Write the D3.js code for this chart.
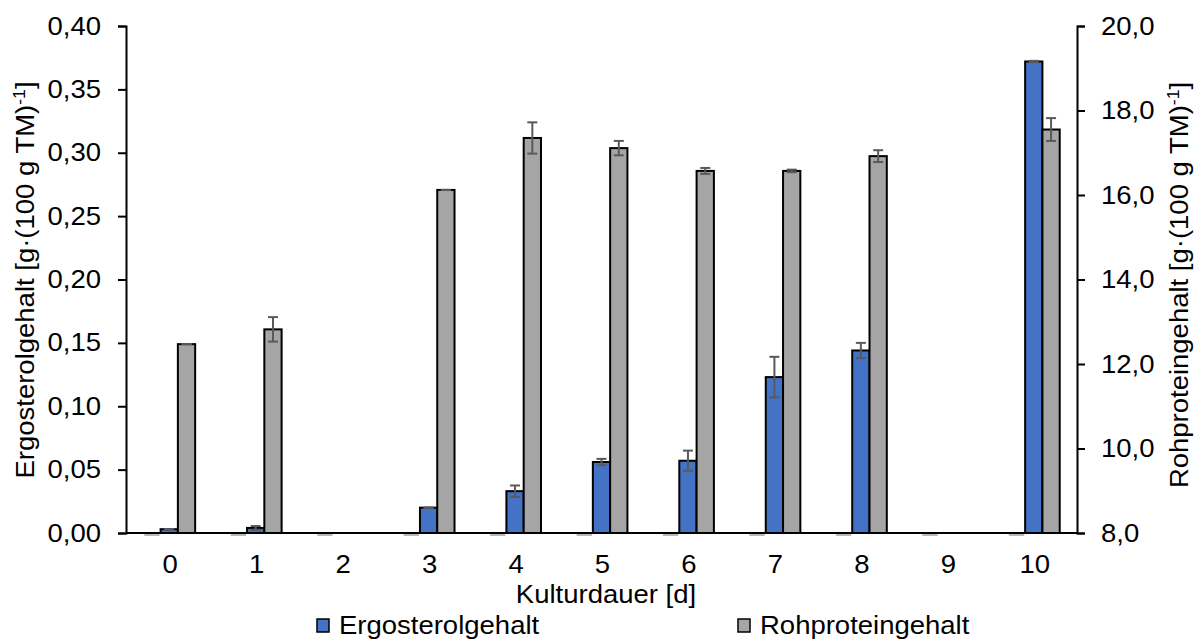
<!DOCTYPE html>
<html>
<head>
<meta charset="utf-8">
<script src="https://cdn.jsdelivr.net/npm/d3@7"></script>
<style>
  html, body { margin: 0; padding: 0; background: #fff; }
  svg text { font-family: "Liberation Sans", Arial, sans-serif; fill: #000; }
</style>
</head>
<body>
<svg id="chart" width="1197" height="641"></svg>
<script>
// Culture days on the x axis
const days = ["0", "1", "2", "3", "4", "5", "6", "7", "8", "9", "10"];
// Ergosterol content, g per 100 g dry matter (left axis); null = not measured
const ergosterol    = [0.003, 0.004, null, 0.020, 0.033, 0.056, 0.057, 0.123, 0.144, null, 0.372];
const ergosterolErr = [0.000, 0.0015, null, 0.000, 0.0045, 0.0025, 0.008, 0.016, 0.006, null, 0.0005];
// Crude protein content, g per 100 g dry matter (right axis)
const protein    = [12.47, 12.82, null, 16.12, 17.35, 17.11, 16.57, 16.57, 16.92, null, 17.55];
const proteinErr = [0.00, 0.29, null, 0.00, 0.37, 0.17, 0.07, 0.03, 0.14, null, 0.27];
// Axis tick values
const leftTicks  = [0, 0.05, 0.10, 0.15, 0.20, 0.25, 0.30, 0.35, 0.40];
const rightTicks = [8, 10, 12, 14, 16, 18, 20];
const seriesNames = ["Ergosterolgehalt", "Rohproteingehalt"];
const seriesColors = ["#4472C4", "#A5A5A5"];

const svg = d3.select("#chart");
const plotL = 126, plotR = 1077, plotT = 26, plotB = 533;
const FS = 25;
const WIDE = 1.1; // slightly widened glyphs

const x = d3.scaleBand().domain(days).range([plotL, plotR]).padding(0);
// three slots per day: empty placeholder, ergosterol, protein
const slotW = x.bandwidth() * 0.2;
const slotX = k => ({ pad: 0.2, erg: 0.4, prot: 0.6 }[k]) * x.bandwidth();

const yL = d3.scaleLinear().domain([0, 0.40]).range([plotB, plotT]);
const yR = d3.scaleLinear().domain([8, 20]).range([plotB, plotT]);
const fmtL = v => d3.format(".2f")(v).replace(".", ",");
const fmtR = v => d3.format(".1f")(v).replace(".", ",");

// text placed at (tx, ty), optionally rotated, stretched along its run
function label(tx, ty, rot, anchor) {
  return svg.append("text")
    .attr("transform", `translate(${tx},${ty}) rotate(${rot}) scale(${WIDE},1)`)
    .attr("text-anchor", anchor)
    .attr("font-size", FS);
}

// placeholder series: zero-height marks at the baseline
svg.append("g").selectAll("rect").data(days).join("rect")
  .attr("x", d => x(d) + slotX("pad") + 1)
  .attr("y", plotB + 0.5)
  .attr("width", slotW - 2)
  .attr("height", 2.5)
  .attr("fill", "#B8B8B8");

// bars
function bars(values, yScale, key, color) {
  const data = days.map((d, i) => ({ d, v: values[i] })).filter(o => o.v !== null);
  svg.append("g").selectAll("rect").data(data).join("rect")
    .attr("x", o => x(o.d) + slotX(key))
    .attr("y", o => yScale(o.v))
    .attr("width", slotW)
    .attr("height", o => plotB - yScale(o.v))
    .attr("fill", color)
    .attr("stroke", "#000")
    .attr("stroke-width", 2);
}
bars(ergosterol, yL, "erg", seriesColors[0]);
bars(protein, yR, "prot", seriesColors[1]);

// error bars
function errors(values, errs, yScale, key) {
  const data = days.map((d, i) => ({ d, v: values[i], e: errs[i] })).filter(o => o.v !== null);
  const g = svg.append("g").attr("stroke", "#5A5A5A").attr("stroke-width", 2);
  const cx = o => x(o.d) + slotX(key) + slotW / 2;
  const cap = 5;
  data.forEach(o => {
    const y1 = yScale(o.v + o.e), y2 = yScale(o.v - o.e);
    if (o.e > 0) g.append("line").attr("x1", cx(o)).attr("x2", cx(o)).attr("y1", y1).attr("y2", y2);
    g.append("line").attr("x1", cx(o) - cap).attr("x2", cx(o) + cap).attr("y1", y1).attr("y2", y1);
    g.append("line").attr("x1", cx(o) - cap).attr("x2", cx(o) + cap).attr("y1", y2).attr("y2", y2);
  });
}
errors(ergosterol, ergosterolErr, yL, "erg");
errors(protein, proteinErr, yR, "prot");

// axes
const axL = svg.append("g").attr("transform", `translate(${plotL},0)`)
  .call(d3.axisLeft(yL).tickValues(leftTicks).tickFormat(fmtL).tickSize(8).tickPadding(17));
const axR = svg.append("g").attr("transform", `translate(${plotR},0)`)
  .call(d3.axisRight(yR).tickValues(rightTicks).tickFormat(fmtR).tickSize(8).tickPadding(16));
[axL, axR].forEach(a => {
  a.select(".domain").attr("stroke", "#000").attr("stroke-width", 2);
  a.selectAll(".tick line").attr("stroke", "#000").attr("stroke-width", 2);
  a.selectAll(".tick text")
    .attr("font-size", FS).attr("font-family", null)
    .attr("x", function () { return +d3.select(this).attr("x") / WIDE; })
    .attr("transform", `scale(${WIDE},1)`);
});
// baseline
svg.append("line").attr("x1", plotL).attr("x2", plotR).attr("y1", plotB).attr("y2", plotB)
  .attr("stroke", "#000").attr("stroke-width", 2);

// x tick labels
days.forEach(d => label(x(d) + x.bandwidth() / 2 + 1, 573, 0, "middle").text(d));

// axis titles
label(606, 603, 0, "middle").text("Kulturdauer [d]");

function unitTitle(name, tx, ty) {
  const t = label(tx, ty, -90, "middle");
  t.append("tspan").text(name + " [g·(100 g TM)");
  t.append("tspan").attr("dy", -9).attr("font-size", 16).text("-1");
  t.append("tspan").attr("dy", 9).text("]");
}
unitTitle("Ergosterolgehalt", 34, 280);
unitTitle("Rohproteingehalt", 1188, 285);

// legend
const legX = [317, 738];
seriesNames.forEach((n, i) => {
  svg.append("rect").attr("x", legX[i]).attr("y", 619).attr("width", 12).attr("height", 13)
    .attr("fill", seriesColors[i]).attr("stroke", "#000").attr("stroke-width", 1.5);
  label(legX[i] + 22, 634, 0, "start").text(n);
});
</script>
</body>
</html>
